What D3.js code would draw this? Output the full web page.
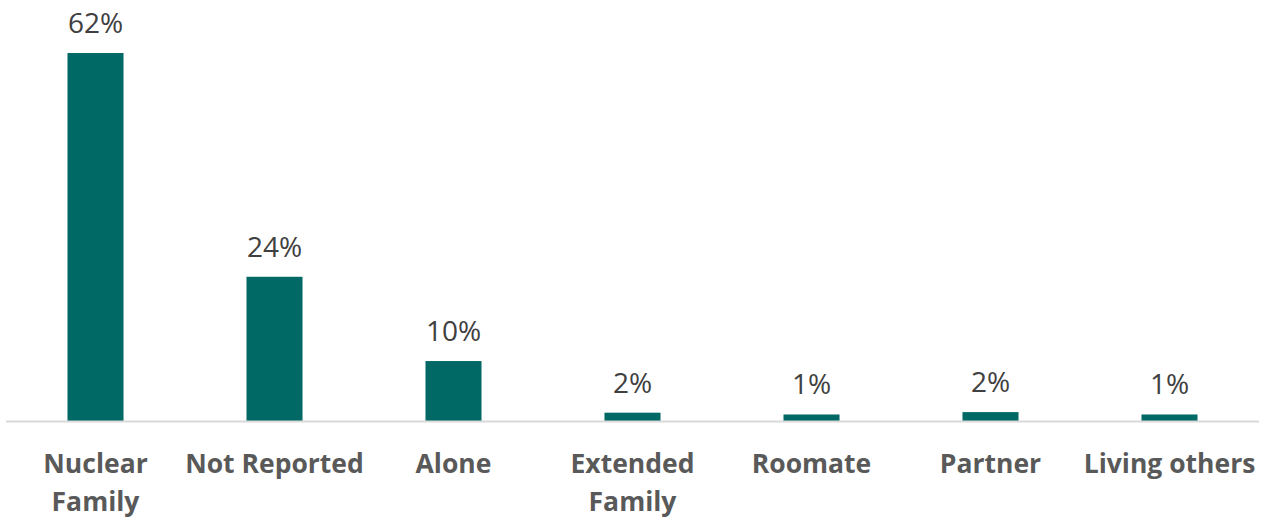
<!DOCTYPE html>
<html>
<head>
<meta charset="utf-8">
<script src="https://cdn.jsdelivr.net/npm/d3@7"></script>
<style>
  body { margin: 0; background: #fff; }
  text { font-family: "Open Sans", "Noto Sans", sans-serif; }
</style>
</head>
<body>
<div id="chart"></div>
<script>
// data
var categories = ["Nuclear Family", "Not Reported", "Alone", "Extended Family", "Roomate", "Partner", "Living others"];
var values = [62, 24.3, 10.1, 1.4, 1.1, 1.5, 1.1];
var valueLabels = ["62%", "24%", "10%", "2%", "1%", "2%", "1%"];
// category labels broken into lines as in the picture
var tickLines = [["Nuclear", "Family"], ["Not Reported"], ["Alone"], ["Extended", "Family"], ["Roomate"], ["Partner"], ["Living others"]];

var width = 1271;
var height = 518;
var baseY = 421;

var svg = d3.select('#chart').append('svg')
    .attr("width", width)
    .attr("height", height);

var x = d3.scaleBand()
    .domain(categories)
    .range([6, 1259])
    .paddingInner(0.687)
    .paddingOuter(0.3435);

var y = d3.scaleLinear()
    .domain([0, 70])
    .range([baseY, baseY - 70 * 5.935]);

var data = categories.map(function(c, i) {
    return {cat: c, val: values[i], label: valueLabels[i], lines: tickLines[i]};
});

//bars
svg.selectAll('rect.bar')
    .data(data)
    .enter()
    .append('rect')
    .attr("class", "bar")
    .attr("x", function(d) { return x(d.cat); })
    .attr("y", function(d) { return y(d.val); })
    .attr("width", x.bandwidth())
    .attr("height", function(d) { return y(0) - y(d.val); })
    .attr("fill", "#006865");

//axis line
svg.append('line')
    .attr("x1", x.range()[0])
    .attr("x2", x.range()[1])
    .attr("y1", y(0) + 0.5)
    .attr("y2", y(0) + 0.5)
    .attr("stroke", "#d9d9d9")
    .attr("stroke-width", 2);

//value labels
svg.selectAll('text.val')
    .data(data)
    .enter()
    .append('text')
    .attr("class", "val")
    .attr("x", function(d) { return x(d.cat) + x.bandwidth() / 2; })
    .attr("y", function(d) { return y(d.val) - 20; })
    .attr("text-anchor", "middle")
    .attr("font-size", 28)
    .attr("fill", "#404040")
    .text(function(d) { return d.label; });

//category labels
var ticks = svg.selectAll('text.cat')
    .data(data)
    .enter()
    .append('text')
    .attr("class", "cat")
    .attr("text-anchor", "middle")
    .attr("font-size", 26.5)
    .attr("font-weight", "bold")
    .attr("fill", "#595959");

ticks.selectAll('tspan')
    .data(function(d) { return d.lines.map(function(l) { return {cat: d.cat, t: l}; }); })
    .enter()
    .append('tspan')
    .attr("x", function(d) { return x(d.cat) + x.bandwidth() / 2; })
    .attr("y", function(d, i) { return 473 + i * 38; })
    .text(function(d) { return d.t; });
</script>
</body>
</html>
